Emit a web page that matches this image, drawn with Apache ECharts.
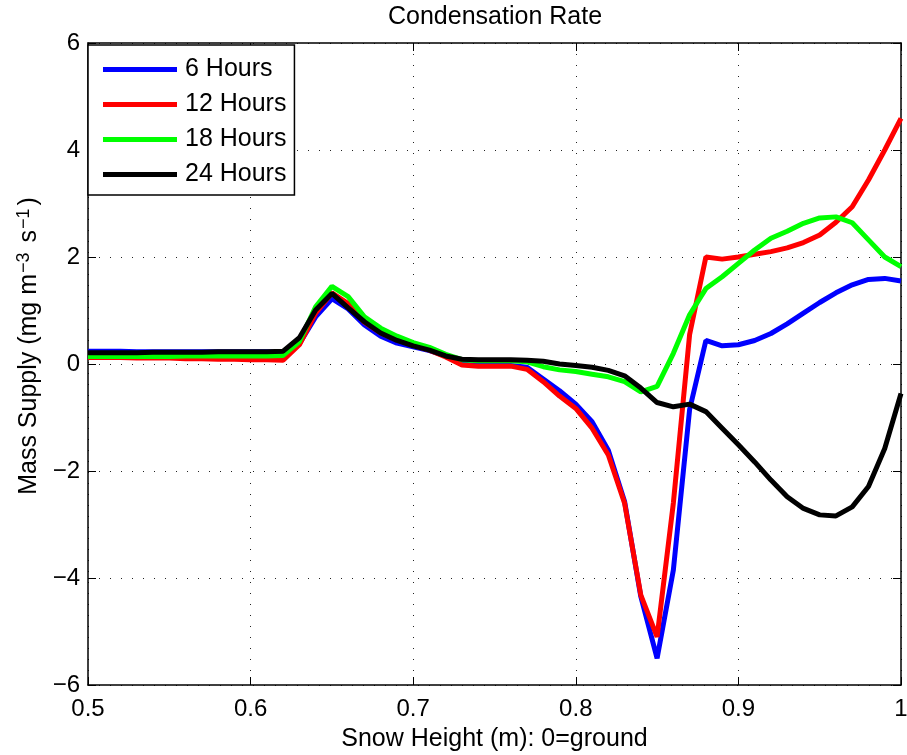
<!DOCTYPE html>
<html><head><meta charset="utf-8">
<script src="https://cdn.jsdelivr.net/npm/echarts@6/dist/echarts.min.js"></script>
<style>html,body{margin:0;padding:0;background:#fff}#c{width:907px;height:755px}</style>
</head><body><div id="c"></div><script>
var heights = [0.50,0.51,0.52,0.53,0.54,0.55,0.56,0.57,0.58,0.59,0.60,0.61,0.62,0.63,0.64,0.65,0.66,0.67,0.68,0.69,0.70,0.71,0.72,0.73,0.74,0.75,0.76,0.77,0.78,0.79,0.80,0.81,0.82,0.83,0.84,0.85,0.86,0.87,0.88,0.89,0.90,0.91,0.92,0.93,0.94,0.95,0.96,0.97,0.98,0.99,1.00];
var hours6 = [0.24,0.24,0.24,0.23,0.23,0.23,0.23,0.23,0.23,0.23,0.23,0.23,0.22,
  0.38,0.88,1.22,1.03,0.73,0.52,0.39,0.32,0.25,0.15,
  0.00,-0.03,-0.03,-0.03,-0.06,-0.28,-0.50,-0.75,-1.08,-1.61,
  -2.57,-4.35,-5.50,-3.85,-0.85,0.44,0.34,0.36,0.44,0.57,
  0.75,0.95,1.15,1.33,1.48,1.58,1.60,1.55];
var hours12 = [0.12,0.12,0.12,0.11,0.11,0.11,0.10,0.10,0.09,0.09,0.08,0.08,0.07,
  0.36,0.95,1.33,1.13,0.78,0.58,0.45,0.35,0.26,0.13,
  -0.02,-0.04,-0.04,-0.04,-0.10,-0.33,-0.60,-0.83,-1.20,-1.70,
  -2.60,-4.32,-5.10,-2.60,0.55,2.00,1.96,2.00,2.05,2.10,
  2.17,2.27,2.41,2.65,2.94,3.44,4.00,4.59];
var hours18 = [0.14,0.14,0.14,0.14,0.14,0.14,0.15,0.15,0.15,0.15,0.15,0.15,0.16,
  0.42,1.07,1.45,1.26,0.88,0.67,0.52,0.40,0.31,0.18,
  0.08,0.06,0.06,0.06,0.04,-0.05,-0.11,-0.14,-0.19,-0.24,
  -0.33,-0.52,-0.42,0.20,0.92,1.41,1.63,1.88,2.13,2.35,
  2.48,2.63,2.73,2.75,2.64,2.32,2.00,1.82];
var hours24 = [0.21,0.21,0.21,0.21,0.22,0.22,0.22,0.22,0.23,0.23,0.23,0.23,0.24,
  0.49,1.01,1.32,1.05,0.79,0.58,0.44,0.34,0.26,0.15,
  0.09,0.08,0.08,0.08,0.07,0.05,0.00,-0.03,-0.06,-0.12,
  -0.22,-0.45,-0.72,-0.80,-0.75,-0.89,-1.20,-1.51,-1.83,-2.17,
  -2.48,-2.70,-2.82,-2.84,-2.67,-2.29,-1.58,-0.55];
var seriesNames = ['6 Hours','12 Hours','18 Hours','24 Hours'];
var seriesColors = ['#0000ff','#ff0000','#00ff00','#000000'];
var seriesValues = [hours6, hours12, hours18, hours24];

var FONT = '"Liberation Sans", Arial, Helvetica, sans-serif';
function pairs(vals){ return vals.map(function(v,i){ return [heights[i], v]; }); }

var chart = echarts.init(document.getElementById('c'), null, {renderer:'canvas'});
var frameLine = {show:true, onZero:false, lineStyle:{color:'#000', width:1.5}};
var tickIn = {show:true, inside:true, length:8, lineStyle:{color:'#000', width:1}};
var grid = {type:[1,10], color:'#222', width:1};
chart.setOption({
  animation:false,
  backgroundColor:'#fff',
  textStyle:{fontFamily:FONT},
  title:{text:'Condensation Rate', left:383, top:0,
    textStyle:{fontFamily:FONT, fontSize:25, fontWeight:'normal', color:'#000'}},
  grid:{left:88, right:6, top:43, bottom:70, containLabel:false, outerBoundsMode:'none'},
  legend:{
    orient:'vertical', left:88, top:45,
    data:seriesNames, icon:'rect', itemWidth:74, itemHeight:5, itemGap:10,
    padding:[12,8,8,15], borderColor:'#000', borderWidth:1.5, backgroundColor:'#fff',
    textStyle:{fontFamily:FONT, fontSize:25, color:'#000', lineHeight:25, padding:[0,0,0,3]}
  },
  xAxis:[{
    type:'value', min:0.5, max:1, interval:0.1, position:'bottom',
    name:'Snow Height (m): 0=ground', nameLocation:'middle', nameGap:42,
    nameTextStyle:{fontFamily:FONT, fontSize:25, color:'#000'},
    axisLine:frameLine, axisTick:tickIn,
    axisLabel:{fontFamily:FONT, fontSize:24, color:'#000', margin:12,
      formatter:function(v){ return String(Math.round(v*10)/10); }},
    splitLine:{show:true, lineStyle:grid}
  },{
    type:'value', min:0.5, max:1, interval:0.1, position:'top',
    axisLine:frameLine, axisTick:tickIn, axisLabel:{show:false}, splitLine:{show:false}
  }],
  yAxis:[{
    type:'value', min:-6, max:6, interval:2, position:'left',
    name:'Mass Supply (mg m{sup|\u22123} s{sup|\u22121})', nameLocation:'middle', nameGap:35,
    nameTextStyle:{fontFamily:FONT, fontSize:25, color:'#000', padding:[0,0,0,36],
      rich:{sup:{fontFamily:FONT, fontSize:18, color:'#000', verticalAlign:'top', padding:[0,3,10,1]}}},
    axisLine:frameLine, axisTick:tickIn,
    axisLabel:{fontFamily:FONT, fontSize:24, color:'#000', margin:8,
      formatter:function(v){ return v < 0 ? '\u2212' + Math.abs(v) : String(v); }},
    splitLine:{show:true, lineStyle:grid}
  },{
    type:'value', min:-6, max:6, interval:2, position:'right',
    axisLine:frameLine, axisTick:tickIn, axisLabel:{show:false}, splitLine:{show:false}
  }],
  series: seriesNames.map(function(n,k){
    return {name:n, type:'line', xAxisIndex:0, yAxisIndex:0, data:pairs(seriesValues[k]),
      showSymbol:false, symbol:'none', lineStyle:{color:seriesColors[k], width:5},
      itemStyle:{color:seriesColors[k]}, z:2+k};
  })
});
</script></body></html>
